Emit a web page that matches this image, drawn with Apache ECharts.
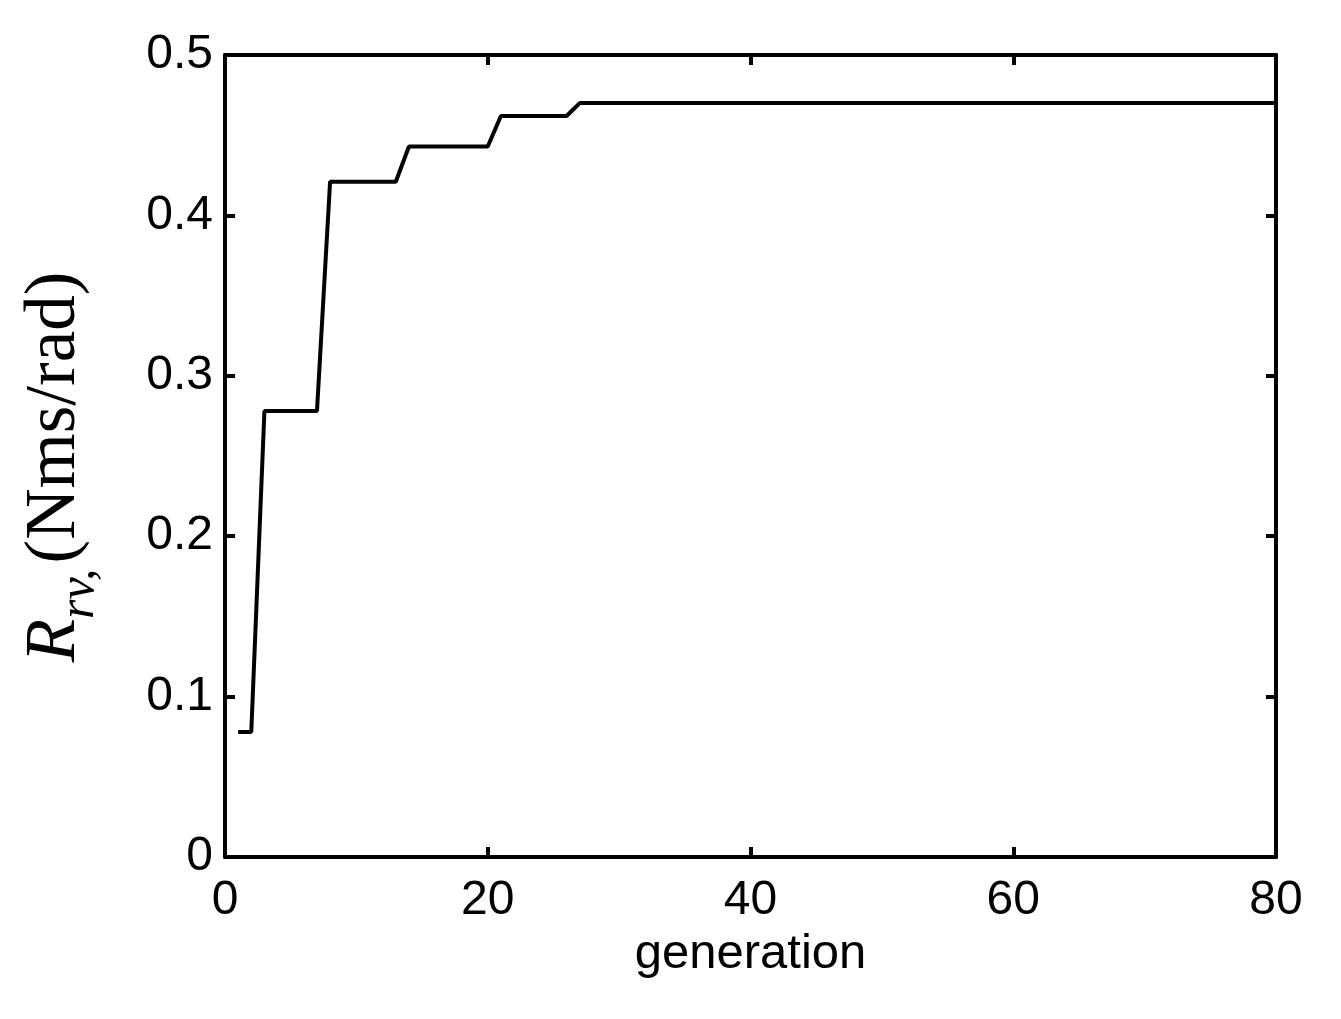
<!DOCTYPE html>
<html>
<head>
<meta charset="utf-8">
<script src="https://cdn.jsdelivr.net/npm/echarts@6/dist/echarts.min.js"></script>
<style>
html,body{margin:0;padding:0;background:#fff;}
#c{width:1341px;height:1019px;}
</style>
</head>
<body>
<div id="c"></div>
<script>
// Data (breakpoints of the best-so-far curve)
var generations = [1, 2, 3, 7, 8, 13, 14, 20, 21, 26, 27, 80];
var rrvValues   = [0.078, 0.078, 0.278, 0.278, 0.421, 0.421, 0.443, 0.443, 0.462, 0.462, 0.470, 0.470];
var xTicks = [0, 20, 40, 60, 80];
var yTicks = [0, 0.1, 0.2, 0.3, 0.4, 0.5];

var seriesData = generations.map(function (g, i) { return [g, rrvValues[i]]; });

var axisColor = '#000';
var lw = 4;
var labelFont = {fontFamily: 'Liberation Sans, Arial, sans-serif', fontSize: 48, color: '#000'};

function baseAxis(extra) {
  var a = {
    type: 'value',
    splitLine: {show: false},
    axisLine: {show: true, onZero: false, lineStyle: {color: axisColor, width: lw}},
    axisTick: {show: true, inside: true, length: 10, lineStyle: {color: axisColor, width: lw}}
  };
  for (var k in extra) a[k] = extra[k];
  return a;
}

var chart = echarts.init(document.getElementById('c'), null, {renderer: 'canvas'});
chart.setOption({
  animation: false,
  backgroundColor: '#fff',
  grid: {left: 225, right: 65, top: 55, bottom: 162, containLabel: false},
  xAxis: [
    baseAxis({
      position: 'bottom', min: xTicks[0], max: xTicks[xTicks.length - 1], interval: 20,
      axisLabel: Object.assign({margin: 20}, labelFont),
      name: 'generation', nameLocation: 'middle', nameGap: 72,
      nameTextStyle: {fontFamily: 'Liberation Sans, Arial, sans-serif', fontSize: 49, color: '#000'}
    }),
    baseAxis({
      position: 'top', min: xTicks[0], max: xTicks[xTicks.length - 1], interval: 20,
      axisLabel: {show: false}
    })
  ],
  yAxis: [
    baseAxis({
      position: 'left', min: yTicks[0], max: yTicks[yTicks.length - 1], interval: 0.1,
      axisLabel: Object.assign({margin: 12}, labelFont),
      name: '{r|R}{s|rv,}{p|(Nms/rad)}', nameLocation: 'middle', nameRotate: 90, nameGap: 120,
      nameTextStyle: {
        padding: [0, 22, 0, 0],
        rich: {
          r: {fontFamily: 'Liberation Serif, Times New Roman, serif', fontStyle: 'italic', fontSize: 71, lineHeight: 100, verticalAlign: 'middle', color: '#000'},
          s: {fontFamily: 'Liberation Serif, Times New Roman, serif', fontStyle: 'italic', fontSize: 50, lineHeight: 50, verticalAlign: 'bottom', color: '#000', padding: [0, 5, 0, 0]},
          p: {fontFamily: 'Liberation Serif, Times New Roman, serif', fontSize: 71, lineHeight: 100, verticalAlign: 'middle', color: '#000'}
        }
      }
    }),
    baseAxis({
      position: 'right', min: yTicks[0], max: yTicks[yTicks.length - 1], interval: 0.1,
      axisLabel: {show: false}
    })
  ],
  series: [{
    type: 'line',
    xAxisIndex: 0, yAxisIndex: 0,
    data: seriesData,
    symbol: 'none',
    lineStyle: {color: '#000', width: 4},
    silent: true
  }]
});
</script>
</body>
</html>
